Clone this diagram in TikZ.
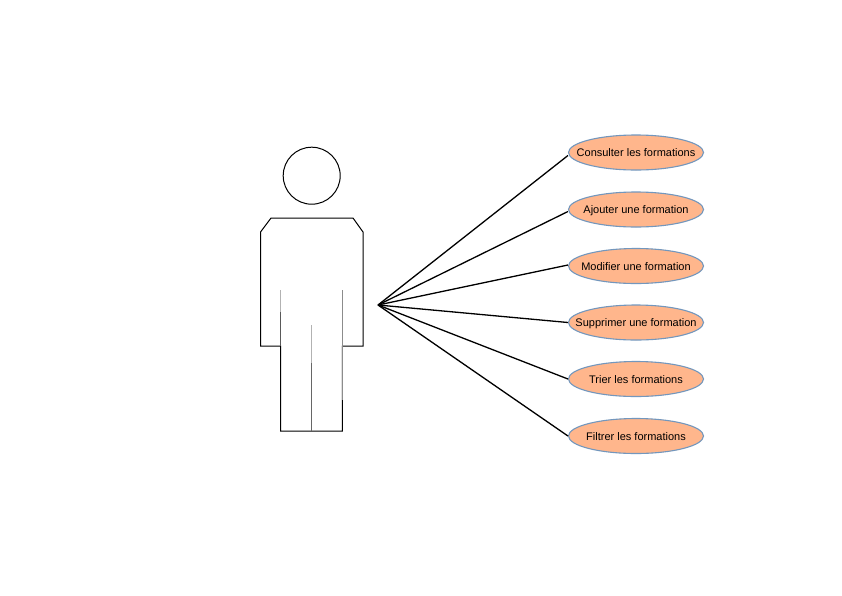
\documentclass[tikz,border=0pt]{standalone}
\usepackage{fontspec}
\setmainfont{Liberation Sans}
\usetikzlibrary{shapes.geometric}
\definecolor{ufill}{HTML}{FFB68C}
\definecolor{uline}{HTML}{7397BD}
\newcommand{\ucl}[1]{\raisebox{-4pt}[0pt][0pt]{\makebox[0pt]{#1}}}
\tikzset{
  usecase/.style={ellipse,draw=uline,line width=1.1pt,fill=ufill,minimum width=135pt,minimum height=35pt,inner sep=0pt,font=\fontsize{11}{12}\selectfont,text=black},
  actorline/.style={draw=black,line width=1pt,fill=white,line join=miter},
  fade/.style={draw=black!30,line width=1pt},
  link/.style={draw=black,line width=1.3pt}
}
\begin{document}
\begin{tikzpicture}[x=1pt,y=-1pt]
\useasboundingbox[fill=white] (0,0) rectangle (842,595);
\node[circle,actorline,minimum size=57pt,inner sep=0pt] (head) at (311.7,175.7) {};
\draw[actorline] (271,218) -- (353,218) -- (363,232) -- (363,346) -- (342.3,346) -- (342.3,431) -- (280.7,431) -- (280.7,346) -- (260.5,346) -- (260.5,232) -- cycle;
\draw[fade] (280.7,290) -- (280.7,312);
\draw[draw=black!65,line width=1pt] (280.7,312) -- (280.7,346);
\draw[draw=black!45,line width=1pt] (342.3,290) -- (342.3,400);
\draw[fade] (311.7,325) -- (311.7,363);
\draw[draw=black!60,line width=1pt] (311.7,363) -- (311.7,431);
\coordinate (hub) at (378,305);
\node[usecase] (u1) at (636,152.5) {\ucl{Consulter les formations}};
\node[usecase] (u2) at (636,209.5) {\ucl{Ajouter une formation}};
\node[usecase] (u3) at (636,266) {\ucl{Modifier une formation}};
\node[usecase] (u4) at (636,322.5) {\ucl{Supprimer une formation}};
\node[usecase] (u5) at (636,379) {\ucl{Trier les formations}};
\node[usecase] (u6) at (636,436) {\ucl{Filtrer les formations}};
\foreach \n/\s in {u1/-3pt,u2/-2pt,u3/1pt,u4/0pt,u5/0pt,u6/0pt} \draw[link] (hub) -- ([yshift=\s]\n.west);
\end{tikzpicture}
\end{document}
